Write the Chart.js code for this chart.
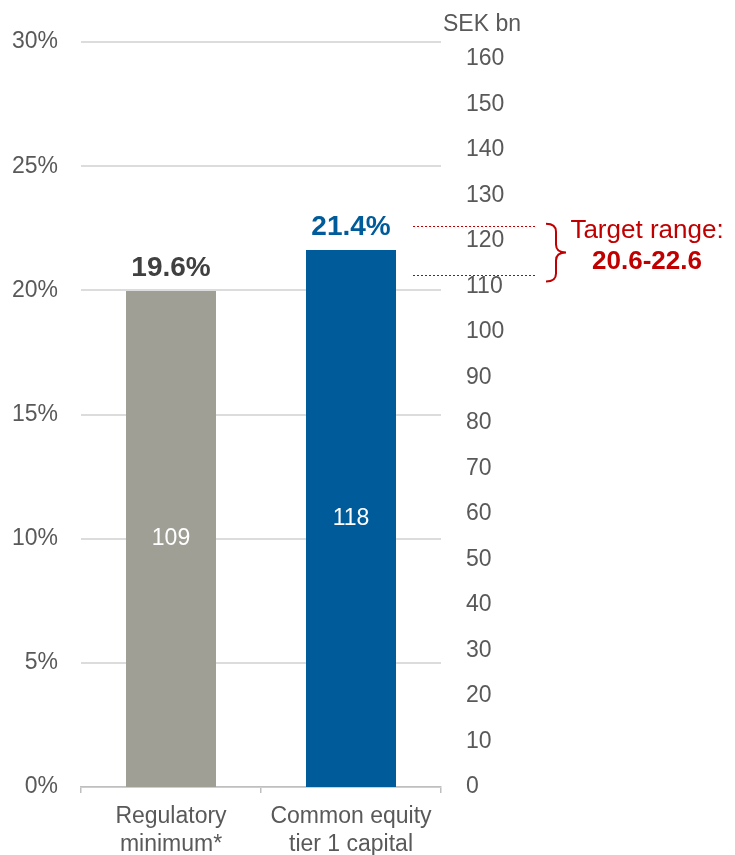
<!DOCTYPE html>
<html><head><meta charset="utf-8">
<script src="https://cdn.jsdelivr.net/npm/chart.js@4/dist/chart.umd.min.js"></script>
<style>html,body{margin:0;padding:0;background:#fff}#wrap{width:735px;height:855px;position:relative}canvas{display:block}</style>
</head><body><div id="wrap"><canvas id="c" width="735" height="855"></canvas></div>
<script>
// ---- data ----
const categories = [["Regulatory", "minimum*"], ["Common equity", "tier 1 capital"]];
const sekValues = [109, 118];            // SEK bn (bar heights, right axis)
const pctValues = [19.6, 21.4];          // labels above bars (%)
const leftTicks = [0, 5, 10, 15, 20, 25, 30];
const rightTicks = [0, 10, 20, 30, 40, 50, 60, 70, 80, 90, 100, 110, 120, 130, 140, 150, 160];
const targetRange = [20.6, 22.6];        // % (left axis)
const unitLabel = "SEK bn";
const targetTitle = "Target range:";

// ---- styles ----
const FONT = "'Liberation Sans', Arial, sans-serif";
const barColors = ["#a09f96", "#005b9a"];
const pctColors = ["#404040", "#005b9a"];
const RED = "#c00000";
const TICK = "#595959";

const annot = {
  id: 'annot',
  afterDraw(chart) {
    const ctx = chart.ctx;
    const meta = chart.getDatasetMeta(0);
    const ca = chart.chartArea;
    ctx.save();
    // unit label
    ctx.fillStyle = TICK;
    ctx.font = "23px " + FONT;
    ctx.textAlign = 'left';
    ctx.textBaseline = 'alphabetic';
    ctx.fillText(unitLabel, ca.right + 2, 31);
    meta.data.forEach((bar, i) => {
      // percentage above bar
      ctx.font = "bold 28px " + FONT;
      ctx.fillStyle = pctColors[i];
      ctx.textAlign = 'center';
      ctx.textBaseline = 'alphabetic';
      ctx.fillText(pctValues[i].toFixed(1) + "%", bar.x, bar.y - 15);
      // value inside bar
      ctx.font = "23px " + FONT;
      ctx.fillStyle = "#ffffff";
      ctx.textBaseline = 'middle';
      ctx.fillText(String(sekValues[i]), bar.x, (bar.y + bar.base) / 2);
    });
    // target range dotted lines
    const ys = chart.scales.y;
    ctx.strokeStyle = RED;
    ctx.lineWidth = 1;
    ctx.setLineDash([2, 2]);
    const yLo = ys.getPixelForValue(targetRange[0]);
    const yHi = ys.getPixelForValue(targetRange[1]);
    [yLo, yHi].forEach(y => {
      ctx.beginPath();
      ctx.moveTo(ca.right - 28, Math.round(y) + 0.5);
      ctx.lineTo(ca.right + 96, Math.round(y) + 0.5);
      ctx.stroke();
    });
    ctx.setLineDash([]);
    // brace
    const bx = ca.right + 105, top = yHi - 2, bot = yLo + 6, mid = (top + bot) / 2;
    ctx.lineWidth = 2;
    ctx.beginPath();
    ctx.moveTo(bx, top);
    ctx.quadraticCurveTo(bx + 10, top, bx + 10, top + 8);
    ctx.lineTo(bx + 10, mid - 8);
    ctx.quadraticCurveTo(bx + 10, mid, bx + 20, mid);
    ctx.quadraticCurveTo(bx + 10, mid, bx + 10, mid + 8);
    ctx.lineTo(bx + 10, bot - 8);
    ctx.quadraticCurveTo(bx + 10, bot, bx, bot);
    ctx.stroke();
    // target text
    ctx.fillStyle = RED;
    ctx.textAlign = 'center';
    ctx.textBaseline = 'alphabetic';
    ctx.font = "26px " + FONT;
    ctx.fillText(targetTitle, 647, 238);
    ctx.font = "bold 26px " + FONT;
    ctx.fillText(targetRange[0].toFixed(1) + "-" + targetRange[1].toFixed(1), 647, 269);
    ctx.restore();
  }
};

new Chart(document.getElementById('c'), {
  type: 'bar',
  data: {
    labels: categories,
    datasets: [{
      data: sekValues,
      yAxisID: 'y2',
      backgroundColor: barColors,
      borderWidth: 0,
      barPercentage: 0.5,
      categoryPercentage: 1.0
    }]
  },
  options: {
    responsive: false,
    animation: false,
    devicePixelRatio: 1,
    layout: { padding: { top: 42, right: 194, left: 0, bottom: 0 } },
    plugins: { legend: { display: false }, tooltip: { enabled: false } },
    scales: {
      x: {
        offset: true,
        grid: { display: true, drawOnChartArea: false, offset: true, tickLength: 6, color: '#bfbfbf', lineWidth: 1.5 },
        border: { color: '#bfbfbf', width: 1.5 },
        ticks: { font: { family: FONT, size: 23 }, color: TICK, padding: 10, maxRotation: 0 },
        afterFit: s => { s.height = 68; }
      },
      y: {
        position: 'left',
        min: 0, max: 30,
        afterBuildTicks: s => { s.ticks = leftTicks.map(v => ({ value: v })); },
        grid: { color: '#dcdcdc', lineWidth: 2, drawTicks: false },
        border: { display: false },
        ticks: { font: { family: FONT, size: 23 }, color: TICK, padding: 23, callback: v => v + '%', autoSkip: false },
        afterFit: s => { s.width = 81; }
      },
      y2: {
        position: 'right',
        min: 0, max: 163.7,
        afterBuildTicks: s => { s.ticks = rightTicks.map(v => ({ value: v })); },
        grid: { display: false, drawTicks: false },
        border: { display: false },
        ticks: { font: { family: FONT, size: 23 }, color: TICK, padding: 25, autoSkip: false },
        afterFit: s => { s.width = 100; }
      }
    }
  },
  plugins: [annot]
});
</script>
</body></html>
